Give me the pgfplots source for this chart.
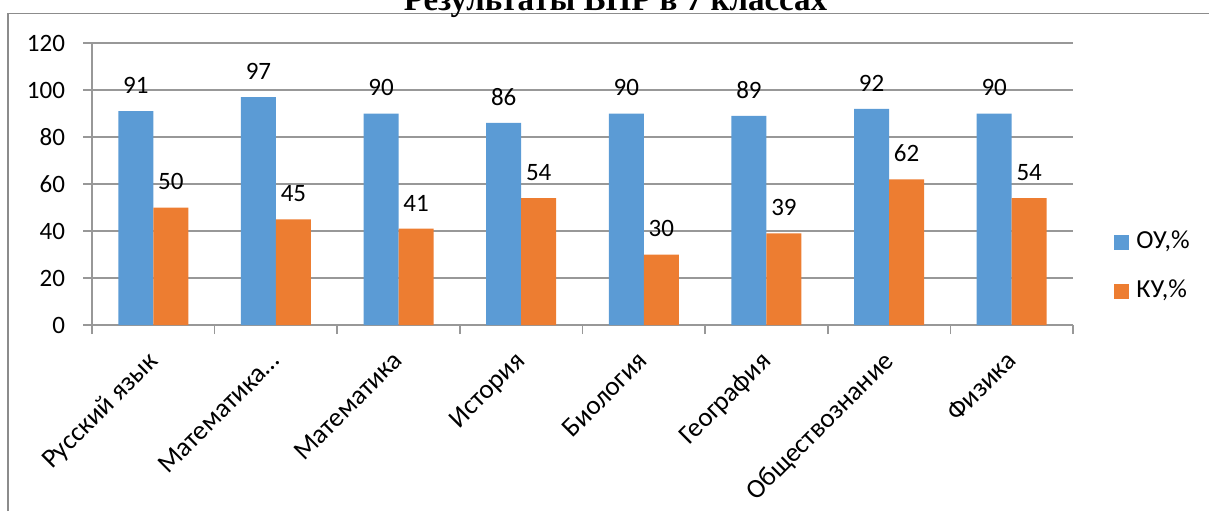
\documentclass[border=0pt]{standalone}
\usepackage{fontspec}
\setmainfont{Carlito}
\newfontfamily\tnr{Liberation Serif}
\usepackage{pgfplots}
\pgfplotsset{compat=1.18}

\definecolor{ou}{HTML}{5B9BD5}
\definecolor{ku}{HTML}{ED7D31}
\definecolor{gridc}{HTML}{989898}
\definecolor{framec}{HTML}{8C8C8C}

\newcommand\lbl{\fontsize{12.5}{15}\selectfont}
\newcommand\catlbl{\fontsize{13.5}{16}\selectfont}

\begin{document}
\begin{tikzpicture}
  \begin{axis}[
    at={(46pt,-162.5pt)}, anchor=south west,
    scale only axis,
    width=490.5pt, height=141pt,
    ybar=0pt, bar width=0.2855,
    xmin=-0.5, xmax=7.5,
    ymin=0, ymax=120,
    xtick={0,...,7},
    xticklabels={Русский язык, Математика…, Математика, История, Биология, География, Обществознание, Физика},
    minor xtick={-0.5,0.5,...,7.5},
    ytick={0,20,...,120},
    major x tick style={draw=none},
    tick align=outside,
    major tick length=4.5pt, minor tick length=4.5pt,
    tick style={gridc, line width=0.8pt},
    axis x line*=bottom, axis y line*=left,
    axis line style={gridc, line width=0.8pt, -},
    ymajorgrids,
    major grid style={gridc, line width=0.8pt},
    /pgf/number format/assume math mode=true,
    yticklabel style={font=\lbl, xshift=-5.5pt},
    xticklabel style={font=\catlbl, rotate=45, anchor=north east, inner sep=1pt, xshift=-7pt, yshift=-1.9pt},
    nodes near coords,
    every node near coord/.append style={font=\lbl, black, anchor=south, inner sep=0pt, yshift=8.5pt},
    legend style={at={(axis description cs:1.0418,0.2074)}, anchor=west,
      draw=none, fill=none, inner sep=0pt, row sep=13pt, font=\fontsize{13}{15}\selectfont,
      nodes={inner sep=0pt, text height=9pt, text depth=2.5pt}},
    legend cell align=left,
    legend image code/.code={\fill[#1] (0pt,-3.75pt) rectangle (7.5pt,3.75pt); \path (11pt,0pt);},
  ]
    \addplot[fill=ou, draw=none] coordinates {
      (0,91) (1,97) (2,90) (3,86) (4,90) (5,89) (6,92) (7,90)
    };
    \addplot[fill=ku, draw=none] coordinates {
      (0,50) (1,45) (2,41) (3,54) (4,30) (5,39) (6,62) (7,54)
    };
    \legend{{ОУ,\%}, {КУ,\%}}
  \end{axis}
  % chart frame and title
  \draw[framec, line width=0.75pt] (4pt,-255.5pt) -- (4pt,-6.65pt) -- (604.5pt,-6.65pt);
  \node[anchor=base, inner sep=0pt, font=\tnr\bfseries\fontsize{16.5}{18}\selectfont] at (307.75pt,-5pt) {Результаты ВПР в 7 классах};
  \pgfresetboundingbox
  \useasboundingbox (0pt,0pt) rectangle (604.5pt,-255.5pt);
\end{tikzpicture}
\end{document}
